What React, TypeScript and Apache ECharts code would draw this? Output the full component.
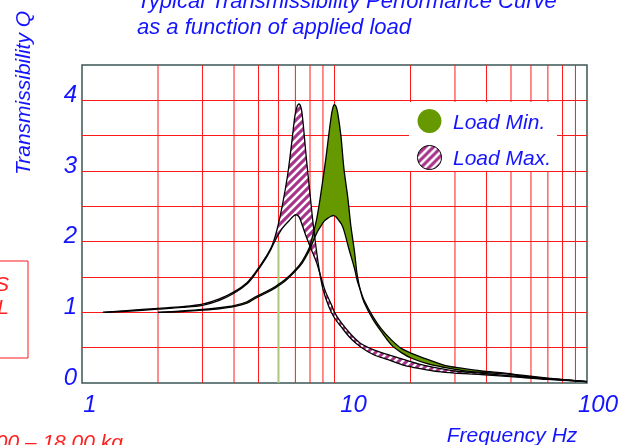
import React, { useEffect, useRef } from 'react';
import * as echarts from 'echarts';

// ---- Data ----
const xTickValues = [1, 10, 100];
const yTickValues = [0, 1, 2, 3, 4];
const gridFreqs = [2, 3, 4, 5, 6, 7, 8, 9, 10, 20, 30, 40, 50, 60, 70, 80, 90];
const markerSegment = [[6, 0], [6, 2.0]];

// Load Max. (hatched band), tall and short curve
const loadMaxTall = [
  [1.21, 1.0], [1.5, 1.025], [2.0, 1.056], [2.5, 1.08], [3.0, 1.115], [3.5, 1.19], [4.0, 1.29],
  [4.5, 1.42], [4.87, 1.57], [5.34, 1.78], [5.68, 1.96], [5.94, 2.19], [6.22, 2.52], [6.52, 2.94],
  [6.75, 3.36], [6.97, 3.78], [7.12, 3.92], [7.24, 3.95], [7.38, 3.89], [7.5, 3.7], [7.59, 3.5],
  [7.76, 3.13], [7.96, 2.75], [8.16, 2.37], [8.33, 2.09], [8.5, 1.85], [8.7, 1.6], [9.0, 1.33],
  [9.5, 1.08], [10.0, 0.92], [10.6, 0.8], [11.6, 0.63], [12.7, 0.51], [14.3, 0.4], [16.3, 0.33],
  [18.9, 0.25], [22.1, 0.2], [25.8, 0.16], [29.9, 0.14], [38, 0.12], [50, 0.09], [70, 0.05], [100, 0.02],
];
const loadMaxShort = [
  [1.21, 1.0], [1.5, 1.015], [2.0, 1.045], [2.5, 1.07], [3.0, 1.1], [3.5, 1.17], [4.0, 1.27],
  [4.5, 1.4], [4.87, 1.55], [5.34, 1.76], [5.6, 1.89], [5.85, 2.03], [6.22, 2.19], [6.62, 2.3],
  [6.92, 2.37], [7.07, 2.38], [7.24, 2.35], [7.46, 2.23], [7.69, 2.09], [8.07, 1.9], [8.5, 1.7],
  [8.8, 1.52], [9.2, 1.3], [9.8, 1.08], [10.0, 1.0], [10.6, 0.86], [11.6, 0.69], [12.7, 0.56],
  [14.3, 0.47], [16.3, 0.4], [18.9, 0.33], [22.1, 0.26], [25.8, 0.21], [29.9, 0.17], [38, 0.14],
  [50, 0.1], [70, 0.06], [100, 0.02],
];
// Load Min. (green band), tall and short curve
const loadMinTall = [
  [2.0, 1.0], [2.5, 1.02], [3.0, 1.04], [3.5, 1.065], [4.0, 1.095], [4.5, 1.15], [4.87, 1.22],
  [5.34, 1.29], [5.85, 1.37], [6.41, 1.47], [7.03, 1.61], [7.46, 1.73], [7.96, 1.92], [8.2, 2.09],
  [8.48, 2.3], [8.71, 2.54], [8.98, 2.86], [9.26, 3.2], [9.52, 3.55], [9.75, 3.82], [9.9, 3.92],
  [10.0, 3.94], [10.15, 3.91], [10.3, 3.82], [10.6, 3.5], [10.9, 3.03], [11.3, 2.61], [11.6, 2.23],
  [12.0, 1.86], [12.3, 1.53], [12.7, 1.29], [13.1, 1.14], [14.2, 0.9], [15.3, 0.73], [16.8, 0.54],
  [18.4, 0.43], [20.2, 0.35], [23.5, 0.27], [27.3, 0.22], [31.8, 0.18], [38.2, 0.15], [47.3, 0.13],
  [55.1, 0.1], [70, 0.06], [100, 0.02],
];
const loadMinShort = [
  [2.0, 1.0], [2.5, 1.012], [3.0, 1.03], [3.5, 1.05], [4.0, 1.08], [4.5, 1.13], [4.87, 1.2],
  [5.34, 1.27], [5.85, 1.35], [6.41, 1.45], [7.03, 1.59], [7.46, 1.7], [7.96, 1.88], [8.2, 1.99],
  [8.5, 2.12], [8.83, 2.22], [9.1, 2.29], [9.39, 2.33], [9.7, 2.36], [9.93, 2.37], [10.15, 2.35],
  [10.4, 2.3], [10.65, 2.25], [10.9, 2.16], [11.4, 1.9], [12.0, 1.62], [12.3, 1.45], [12.7, 1.3],
  [13.1, 1.17], [14.2, 0.94], [15.3, 0.77], [16.8, 0.61], [18.4, 0.49], [20.2, 0.42], [23.5, 0.33],
  [27.3, 0.25], [31.8, 0.21], [38.2, 0.17], [47.3, 0.14], [55.1, 0.11], [70, 0.07], [100, 0.02],
];

const FONT = 'Liberation Sans, Arial, Helvetica, sans-serif';
const BLUE = '#1414ff';
const RED = '#ff2020';
const GRID_RED = '#ff1a1a';
const GREEN = '#669900';
const PURPLE = '#a8338a';

function makeHatch() {
  const c = document.createElement('canvas');
  c.width = 8;
  c.height = 8;
  const ctx = c.getContext('2d')!;
  ctx.fillStyle = '#ffffff';
  ctx.fillRect(0, 0, 8, 8);
  ctx.strokeStyle = PURPLE;
  ctx.lineWidth = 3.1;
  for (const k of [0, 8, 16]) {
    ctx.beginPath();
    ctx.moveTo(k + 1, -1);
    ctx.lineTo(k - 9, 9);
    ctx.stroke();
  }
  return c;
}

export default function App() {
  const ref = useRef<HTMLDivElement>(null);

  useEffect(() => {
    const chart = echarts.init(ref.current!, null, { renderer: 'svg' });
    const hatch: any = { image: makeHatch(), repeat: 'repeat', imageWidth: 8, imageHeight: 8 };

    const band = (name: string, upper: number[][], lower: number[][], fill: any) => ({
      type: 'custom',
      name,
      data: upper,
      silent: true,
      z: 2,
      renderItem: (params: any, api: any) => {
        if (params.dataIndex !== 0) return null;
        const pts = upper
          .map((p) => api.coord(p))
          .concat(lower.slice().reverse().map((p) => api.coord(p)));
        return { type: 'polygon', shape: { points: pts, smooth: 0.3 }, style: { fill, stroke: null } };
      },
    });

    const outline = (curve: number[][]) => ({
      type: 'custom',
      data: curve,
      silent: true,
      z: 3,
      renderItem: (params: any, api: any) => {
        if (params.dataIndex !== 0) return null;
        return {
          type: 'polyline',
          shape: { points: curve.map((p) => api.coord(p)), smooth: 0.3 },
          style: { stroke: '#000', lineWidth: 1.3, fill: null },
        };
      },
    });

    const xRich: any = {
      a: { fontSize: 24, fontStyle: 'italic', color: BLUE, fontFamily: FONT, padding: [0, 0, 0, 16] },
      b: { fontSize: 24, fontStyle: 'italic', color: BLUE, fontFamily: FONT, padding: [0, 0, 0, 38] },
      c: { fontSize: 24, fontStyle: 'italic', color: BLUE, fontFamily: FONT, padding: [0, 0, 0, 22] },
    };

    const option: any = {
      animation: false,
      title: {
        text: 'Typical Transmissibility Performance Curve\nas a function of applied load',
        left: 137,
        top: -13,
        padding: 0,
        textStyle: {
          fontSize: 22,
          fontStyle: 'italic',
          fontWeight: 'normal',
          color: BLUE,
          fontFamily: FONT,
          lineHeight: 26,
        },
      },
      legend: {
        orient: 'vertical',
        left: 409,
        top: 102,
        itemWidth: 37,
        itemHeight: 24,
        itemGap: 12,
        padding: [7, 6, 1, 8],
        backgroundColor: '#ffffff',
        selectedMode: false,
        textStyle: { fontSize: 21, fontStyle: 'italic', color: BLUE, fontFamily: FONT },
        data: [
          { name: 'Load Min.', icon: 'circle', itemStyle: { color: GREEN, borderWidth: 0 } },
          { name: 'Load Max.', icon: 'circle', itemStyle: { color: hatch, borderColor: '#000', borderWidth: 1 } },
        ],
      },
      grid: {
        left: 82,
        right: 40,
        top: 65,
        bottom: 62,
        show: true,
        borderColor: '#3d5555',
        borderWidth: 1.5,
        backgroundColor: 'transparent',
      },
      xAxis: {
        type: 'log',
        logBase: 10,
        min: xTickValues[0],
        max: xTickValues[xTickValues.length - 1],
        axisLine: { show: false },
        axisTick: { show: false },
        splitLine: { show: false },
        axisLabel: {
          margin: 8,
          showMinLabel: true,
          showMaxLabel: true,
          formatter: (v: number) => {
            const i = xTickValues.indexOf(Math.round(v));
            return i < 0 ? '' : `{${'abc'[i]}|${xTickValues[i]}}`;
          },
          rich: xRich,
        },
      },
      yAxis: {
        type: 'value',
        min: 0,
        max: 4.5,
        interval: 0.5,
        axisLine: { show: false },
        axisTick: { show: false },
        splitLine: {
          show: true,
          showMinLine: false,
          showMaxLine: false,
          lineStyle: { color: GRID_RED, width: 1 },
        },
        axisLabel: {
          margin: 5,
          fontSize: 24,
          fontStyle: 'italic',
          color: BLUE,
          fontFamily: FONT,
          verticalAlign: 'bottom',
          lineHeight: 14,
          formatter: (v: number) => (yTickValues.indexOf(v) >= 0 ? String(v) : ''),
        },
      },
      graphic: [
        {
          type: 'text',
          x: 22,
          y: 93,
          rotation: Math.PI / 2,
          style: {
            text: 'Transmissibility Q',
            fill: BLUE,
            fontSize: 21,
            fontStyle: 'italic',
            fontFamily: FONT,
            align: 'center',
            verticalAlign: 'middle',
          },
        },
        {
          type: 'text',
          x: 512,
          y: 434,
          style: {
            text: 'Frequency Hz',
            fill: BLUE,
            fontSize: 21,
            fontStyle: 'italic',
            fontFamily: FONT,
            align: 'center',
            verticalAlign: 'middle',
          },
        },
        {
          type: 'rect',
          shape: { x: -200, y: 261, width: 228, height: 97 },
          style: { fill: 'none', stroke: GRID_RED, lineWidth: 1 },
        },
        {
          type: 'text',
          x: 9,
          y: 272,
          style: {
            text: 'RESONANCES\nNOMINAL',
            fill: RED,
            fontSize: 21,
            lineHeight: 23,
            fontStyle: 'italic',
            fontFamily: FONT,
            align: 'right',
            verticalAlign: 'top',
          },
        },
        {
          type: 'text',
          x: 123,
          y: 441,
          style: {
            text: 'Load range 9.00 – 18.00 kg',
            fill: RED,
            fontSize: 21,
            fontStyle: 'italic',
            fontFamily: FONT,
            align: 'right',
            verticalAlign: 'middle',
          },
        },
      ],
      series: [
        {
          type: 'custom',
          data: gridFreqs.map((f) => [f, 0]),
          silent: true,
          z: 1,
          renderItem: (params: any, api: any) => {
            const f = gridFreqs[params.dataIndex];
            const p0 = api.coord([f, 0]);
            const p1 = api.coord([f, 4.5]);
            return {
              type: 'line',
              shape: { x1: p0[0], y1: p0[1], x2: p1[0], y2: p1[1] },
              style: { stroke: GRID_RED, lineWidth: 1 },
            };
          },
        },
        {
          type: 'custom',
          data: markerSegment,
          silent: true,
          z: 1,
          renderItem: (params: any, api: any) => {
            if (params.dataIndex !== 0) return null;
            const p0 = api.coord(markerSegment[0]);
            const p1 = api.coord(markerSegment[1]);
            return {
              type: 'line',
              shape: { x1: p0[0], y1: p0[1], x2: p1[0], y2: p1[1] },
              style: { stroke: '#a9c97f', lineWidth: 2 },
            };
          },
        },
        band('Load Max.', loadMaxTall, loadMaxShort, hatch),
        band('Load Min.', loadMinTall, loadMinShort, GREEN),
        outline(loadMaxTall),
        outline(loadMaxShort),
        outline(loadMinTall),
        outline(loadMinShort),
      ],
    };

    chart.setOption(option);
    return () => chart.dispose();
  }, []);

  return <div ref={ref} style={{ position: 'fixed', left: 0, top: 0, width: 627, height: 445 }} />;
}
